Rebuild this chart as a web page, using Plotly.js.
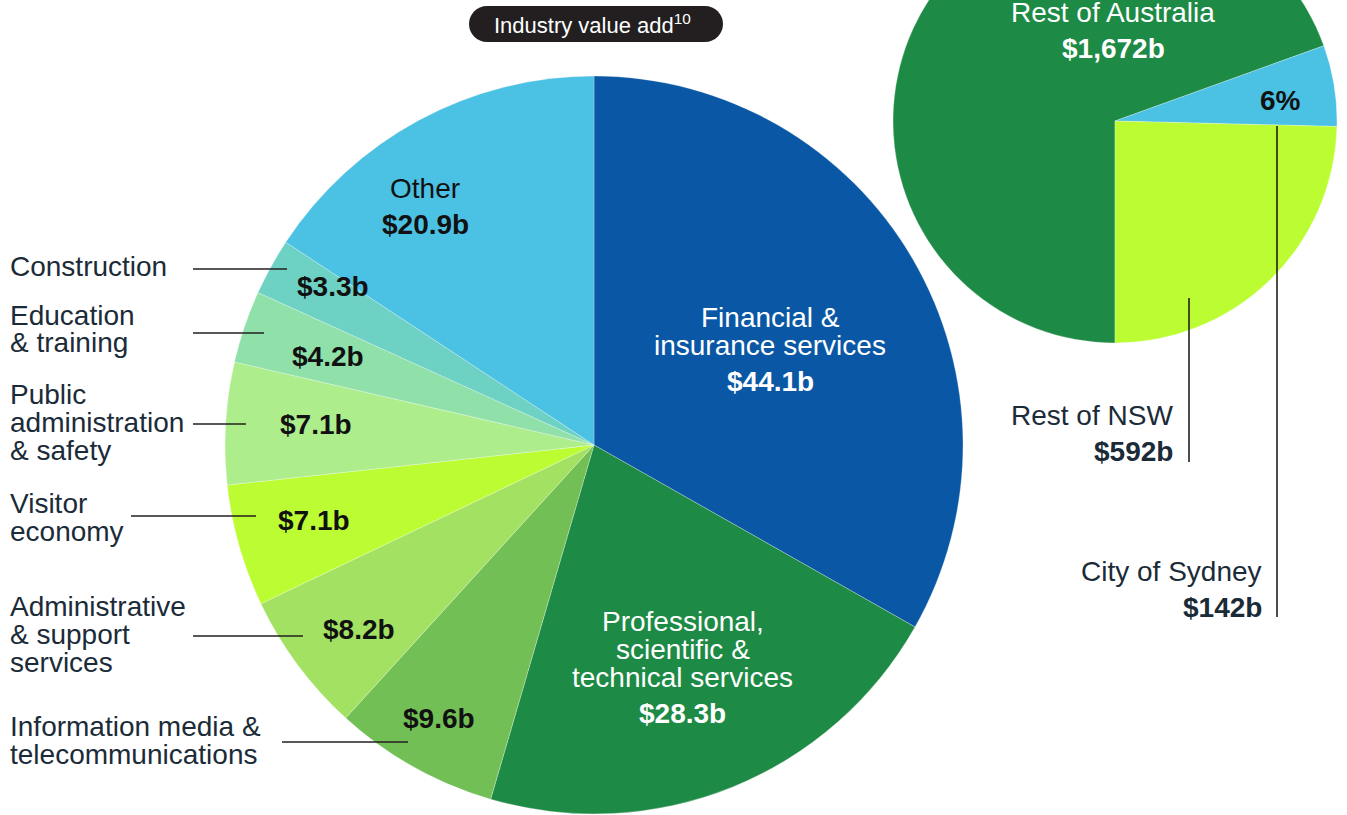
<!DOCTYPE html>
<html>
<head>
<meta charset="utf-8">
<script src="https://cdn.plot.ly/plotly-3.0.1.min.js"></script>
<style>
html,body{margin:0;padding:0;overflow:hidden;background:#fff;width:1347px;height:815px;}
#chart{position:absolute;left:0;top:-110px;width:1347px;height:930px;}
</style>
</head>
<body>
<div id="chart"></div>
<script>
// ---- Data ----
const industries = ['Financial & insurance services','Professional, scientific & technical services','Information media & telecommunications','Administrative & support services','Visitor economy','Public administration & safety','Education & training','Construction','Other'];
const industryValues = [44.1, 28.3, 9.6, 8.2, 7.1, 7.1, 4.2, 3.3, 20.9];
const industryColors = ['#0a58a5','#1d8a45','#72bf55','#a2e162','#bcfc33','#aeed8c','#8fe1a9','#6dd2c4','#4bc1e4'];

// drawn clockwise from 6 o'clock
const regions = ['Rest of Australia','City of Sydney','Rest of NSW'];
const regionValues = [1672, 142, 592];
const regionColors = ['#1d8a45','#4bc1e4','#bcfc33'];

const titleText = 'Industry value add<sup>10</sup>';

// ---- Geometry helpers (pixel -> paper) ----
const W = 1347, H = 930, OFF = 110;
const X = p => p / W;
const Y = p => 1 - (p + OFF) / H;

const fmtB = v => '$' + v.toLocaleString('en-US') + 'b';
const sum = a => a.reduce((s, v) => s + v, 0);

const FONT = '"Liberation Sans", Arial, Helvetica, sans-serif';
const LABEL_COL = '#1b2b38';
const LINE_COL = '#231f20';
const FS = 28;

const annotations = [];
function txt(x, y, text, o) {
  o = o || {};
  annotations.push({
    xref: 'paper', yref: 'paper', x: X(x), y: Y(y), text: text,
    showarrow: false, xanchor: o.xanchor || 'center', yanchor: 'middle',
    borderpad: 0,
    font: {family: FONT, size: o.size || FS, color: o.color || LABEL_COL}
  });
}
function lines(x, y0, pitch, arr, o) {
  arr.forEach((t, i) => txt(x, y0 + i * pitch, t, o));
}
const bold = s => '<b>' + s + '</b>';

const shapes = [];
function hline(x0, x1, y) {
  shapes.push({type:'line', xref:'paper', yref:'paper', x0:X(x0), x1:X(x1), y0:Y(y), y1:Y(y), line:{color:LINE_COL, width:1.6}});
}
function vline(x, y0, y1) {
  shapes.push({type:'line', xref:'paper', yref:'paper', x0:X(x), x1:X(x), y0:Y(y0), y1:Y(y1), line:{color:LINE_COL, width:1.6}});
}

// Title pill (rounded rectangle)
(function(){
  const l = 469, r = 723, t = 6, b = 42, rad = 18, k = 0.5523 * rad;
  const P = (x, y) => X(x) + ',' + Y(y);
  const path = 'M' + P(l+rad, t) + ' L' + P(r-rad, t) +
    ' C' + P(r-rad+k, t) + ' ' + P(r, t+rad-k) + ' ' + P(r, t+rad) +
    ' C' + P(r, t+rad+k) + ' ' + P(r-rad+k, b) + ' ' + P(r-rad, b) +
    ' L' + P(l+rad, b) +
    ' C' + P(l+rad-k, b) + ' ' + P(l, b-rad+k) + ' ' + P(l, b-rad) +
    ' C' + P(l, b-rad-k) + ' ' + P(l+rad-k, t) + ' ' + P(l+rad, t) + ' Z';
  shapes.push({type:'path', xref:'paper', yref:'paper', path:path, fillcolor:'#231f20', line:{width:0}, layer:'above'});
  txt(592, 24, titleText, {color:'#ffffff', size:22});
})();

// ---- Main pie labels ----
const WHITE = '#ffffff', BLACK = '#111111';
lines(770, 317, 28, ['Financial &', 'insurance services'], {color:WHITE});
txt(770, 381, bold(fmtB(industryValues[0])), {color:WHITE});
lines(683, 621, 28, ['Professional,', 'scientific &', 'technical services'], {color:WHITE});
txt(683, 713, bold(fmtB(industryValues[1])), {color:WHITE});
txt(425, 188, 'Other', {color:BLACK});
txt(425, 224, bold(fmtB(industryValues[8])), {color:BLACK});
txt(333, 286, bold(fmtB(industryValues[7])), {color:BLACK});
txt(328, 356, bold(fmtB(industryValues[6])), {color:BLACK});
txt(316, 424, bold(fmtB(industryValues[5])), {color:BLACK});
txt(314, 520, bold(fmtB(industryValues[4])), {color:BLACK});
txt(359, 629, bold(fmtB(industryValues[3])), {color:BLACK});
txt(439, 718, bold(fmtB(industryValues[2])), {color:BLACK});

// outside labels (left)
const L = {xanchor:'left'};
lines(9, 266, 28, ['Construction'], L);
lines(9, 315, 28, ['Education', '& training'], L);
lines(9, 394, 28, ['Public', 'administration', '& safety'], L);
lines(9, 503, 28, ['Visitor', 'economy'], L);
lines(9, 606, 28, ['Administrative', '& support', 'services'], L);
lines(9, 726, 28, ['Information media &', 'telecommunications'], L);
hline(193, 287, 269);
hline(193, 264, 333);
hline(193, 246, 424);
hline(131, 256, 516);
hline(193, 303, 636);
hline(282, 408, 742);

// ---- Small pie labels ----
const iAus = 0, iCity = 1, iNsw = 2;
txt(1113, 12, 'Rest of Australia', {color:WHITE});
txt(1113, 48, bold(fmtB(regionValues[iAus])), {color:WHITE});
txt(1280, 101, bold(Math.round(100 * regionValues[iCity] / sum(regionValues)) + '%'), {color:BLACK});
const R = {xanchor:'right'};
txt(1174, 415, 'Rest of NSW', R);
txt(1174, 451, bold(fmtB(regionValues[iNsw])), R);
txt(1263, 571, 'City of Sydney', R);
txt(1263, 607, bold(fmtB(regionValues[iCity])), R);
vline(1189, 298, 462);
vline(1277, 126, 617);

// ---- Traces ----
const mainCx = 594, mainCy = 445, mainR = 369;
const smallCx = 1115, smallCy = 121, smallR = 222;

const traces = [
  {
    type: 'pie', labels: industries, values: industryValues, sort: false,
    direction: 'clockwise', rotation: 0,
    marker: {colors: industryColors, line: {color: 'rgba(255,255,255,0.45)', width: 0.6}},
    textinfo: 'none', hoverinfo: 'skip', showlegend: false,
    domain: {x: [X(mainCx - mainR), X(mainCx + mainR)], y: [Y(mainCy + mainR), Y(mainCy - mainR)]}
  },
  {
    type: 'pie', labels: regions, values: regionValues, sort: false,
    direction: 'clockwise', rotation: 180,
    marker: {colors: regionColors, line: {color: 'rgba(255,255,255,0.45)', width: 0.6}},
    textinfo: 'none', hoverinfo: 'skip', showlegend: false,
    domain: {x: [X(smallCx - smallR), X(smallCx + smallR)], y: [Y(smallCy + smallR), Y(smallCy - smallR)]}
  }
];

const layout = {
  width: W, height: H,
  margin: {l: 0, r: 0, t: 0, b: 0, pad: 0},
  paper_bgcolor: '#ffffff', plot_bgcolor: '#ffffff',
  showlegend: false,
  annotations: annotations,
  shapes: shapes,
  font: {family: FONT}
};

Plotly.newPlot('chart', traces, layout, {staticPlot: true, displayModeBar: false});
</script>
</body>
</html>
